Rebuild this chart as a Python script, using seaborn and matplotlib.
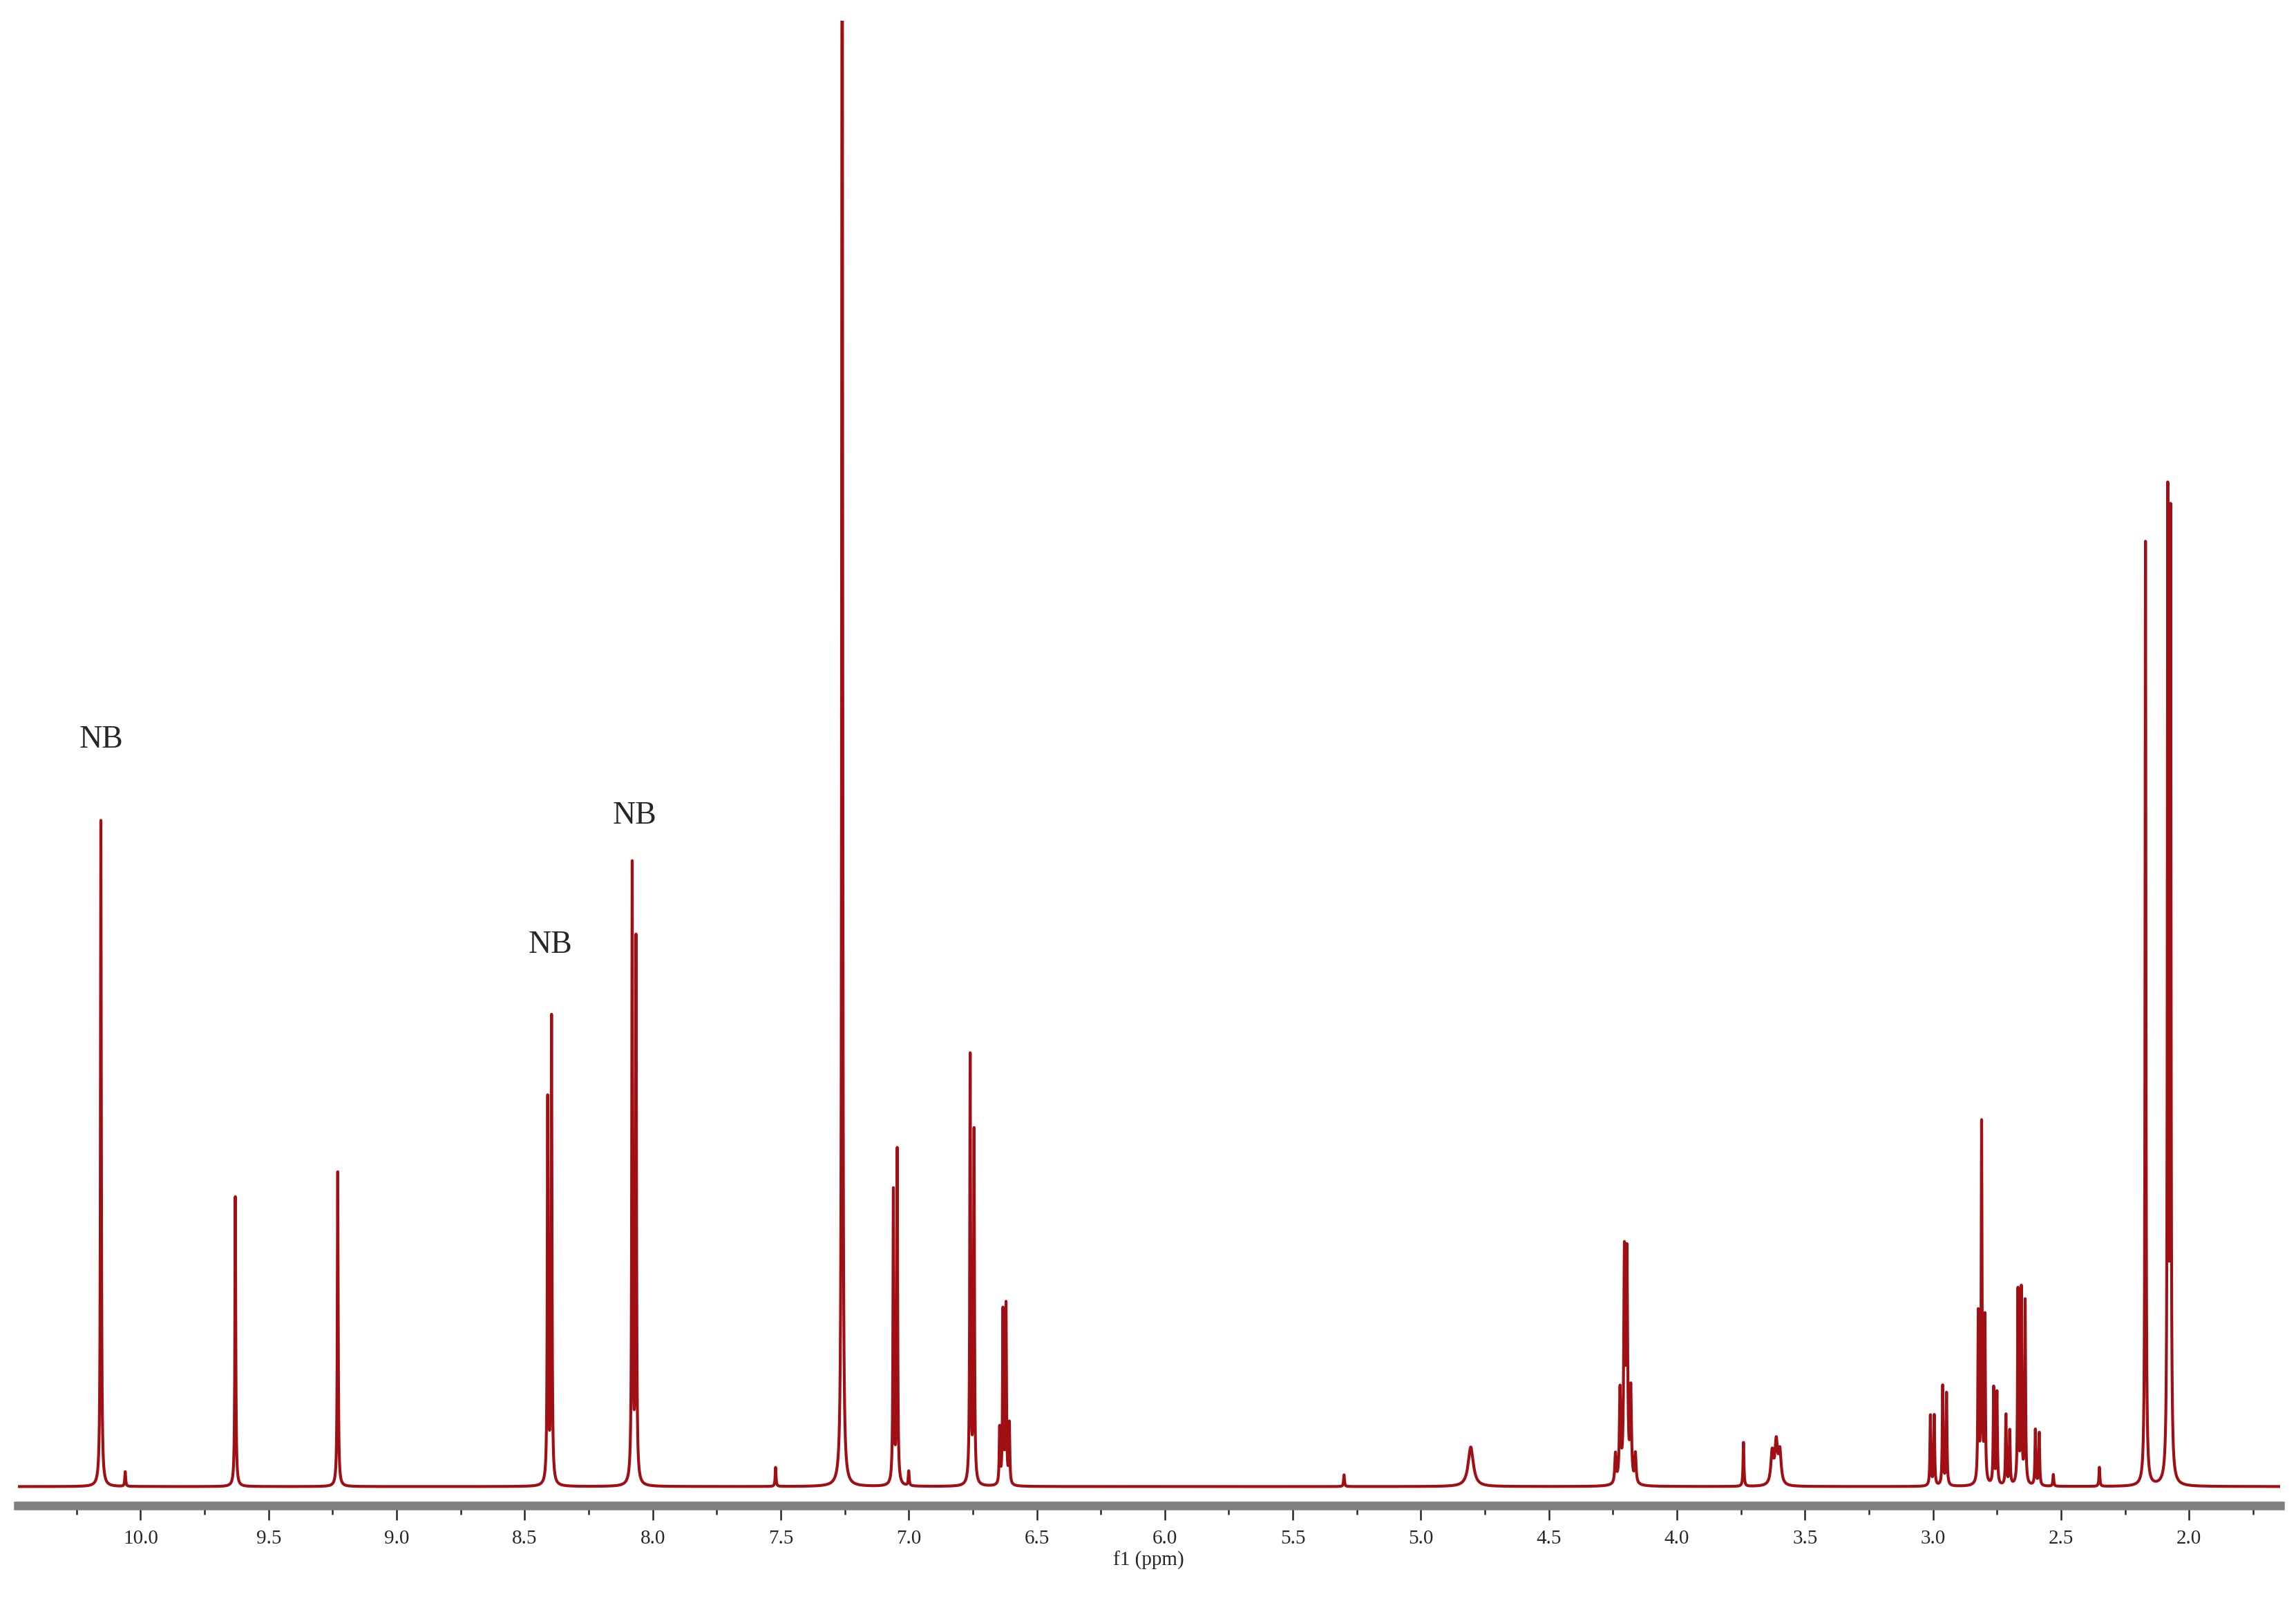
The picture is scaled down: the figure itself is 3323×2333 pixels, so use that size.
import matplotlib
matplotlib.use("Agg")
import matplotlib.pyplot as plt
import numpy as np
import pandas as pd
import seaborn as sns
from matplotlib.ticker import MultipleLocator

## Peak list (ppm, relative height, half-width in ppm)
peak_ppm = [10.155, 10.06, 9.630, 9.230, 8.410, 8.395, 8.080, 8.065, 7.52, 7.26,
            7.060, 7.045, 7.00, 6.760, 6.745, 6.645, 6.632, 6.620, 6.607, 5.30,
            4.805, 4.240, 4.222, 4.205, 4.195, 4.180, 4.162, 3.74, 3.628, 3.612,
            3.598, 3.010, 2.995, 2.962, 2.947, 2.823, 2.810, 2.797, 2.763, 2.750,
            2.715, 2.700, 2.668, 2.655, 2.640, 2.600, 2.585, 2.53, 2.35, 2.170,
            2.083, 2.072]
peak_height = [0.455, 0.010, 0.198, 0.215, 0.262, 0.318, 0.421, 0.370, 0.013, 1.300,
               0.200, 0.228, 0.010, 0.292, 0.240, 0.038, 0.118, 0.122, 0.041, 0.008,
               0.027, 0.020, 0.062, 0.152, 0.150, 0.062, 0.020, 0.030, 0.022, 0.028,
               0.022, 0.048, 0.048, 0.068, 0.063, 0.115, 0.245, 0.112, 0.066, 0.063,
               0.048, 0.037, 0.132, 0.132, 0.125, 0.038, 0.036, 0.008, 0.013, 0.645,
               0.665, 0.650]
peak_width = [0.002, 0.002, 0.002, 0.002, 0.002, 0.002, 0.002, 0.002, 0.002, 0.002,
              0.002, 0.002, 0.002, 0.002, 0.002, 0.002, 0.002, 0.002, 0.002, 0.002,
              0.012, 0.003, 0.003, 0.003, 0.003, 0.003, 0.003, 0.002, 0.006, 0.006,
              0.006, 0.002, 0.002, 0.002, 0.002, 0.002, 0.002, 0.002, 0.002, 0.002,
              0.002, 0.002, 0.002, 0.002, 0.002, 0.002, 0.002, 0.002, 0.002, 0.002,
              0.002, 0.002]

nb_ppm = [10.155, 8.40, 8.07]
nb_y = [0.50, 0.36, 0.448]

x_left, x_right = 10.48, 1.645

## Build spectrum from Lorentzian lines
ppm = np.arange(x_right, x_left, 0.0002)
inten = np.zeros_like(ppm)
for c, h, w in zip(peak_ppm, peak_height, peak_width):
    inten += h * w**2 / ((ppm - c)**2 + w**2)
df = pd.DataFrame({"ppm": ppm, "I": inten})

sns.set_style("white")
plt.rcParams['font.family'] = ['Liberation Serif', 'DejaVu Serif']

fig = plt.figure(figsize=(3323/300, 2333/300), dpi=300)
ax = fig.add_axes([0.0077, 0.066, 0.9853, 0.921])
sns.lineplot(data=df, x="ppm", y="I", ax=ax, color="#a00f14", linewidth=1.0)

ax.set_xlim(x_left, x_right)
ax.set_ylim(-0.013, 1.001)
for s in ["left", "top", "right"]:
    ax.spines[s].set_visible(False)
ax.spines["bottom"].set_color("#808080")
ax.spines["bottom"].set_linewidth(3.0)
ax.set_yticks([])
ax.xaxis.set_major_locator(MultipleLocator(0.5))
ax.xaxis.set_minor_locator(MultipleLocator(0.25))
ax.tick_params(axis="x", which="major", direction="out", length=5, width=0.6, labelsize=7, bottom=True)
ax.tick_params(axis="x", which="minor", direction="out", length=3, width=0.6, bottom=True)
ax.set_xticks(np.arange(2.0, 10.01, 0.5))
ax.set_xticklabels([f"{v:.1f}" for v in np.arange(2.0, 10.01, 0.5)])
ax.set_xlabel("f1 (ppm)", fontsize=7, labelpad=1)
ax.set_ylabel("")

for px, py in zip(nb_ppm, nb_y):
    ax.text(px, py, "NB", ha="center", va="bottom", fontsize=11)

fig.savefig("out.png", dpi=300)
